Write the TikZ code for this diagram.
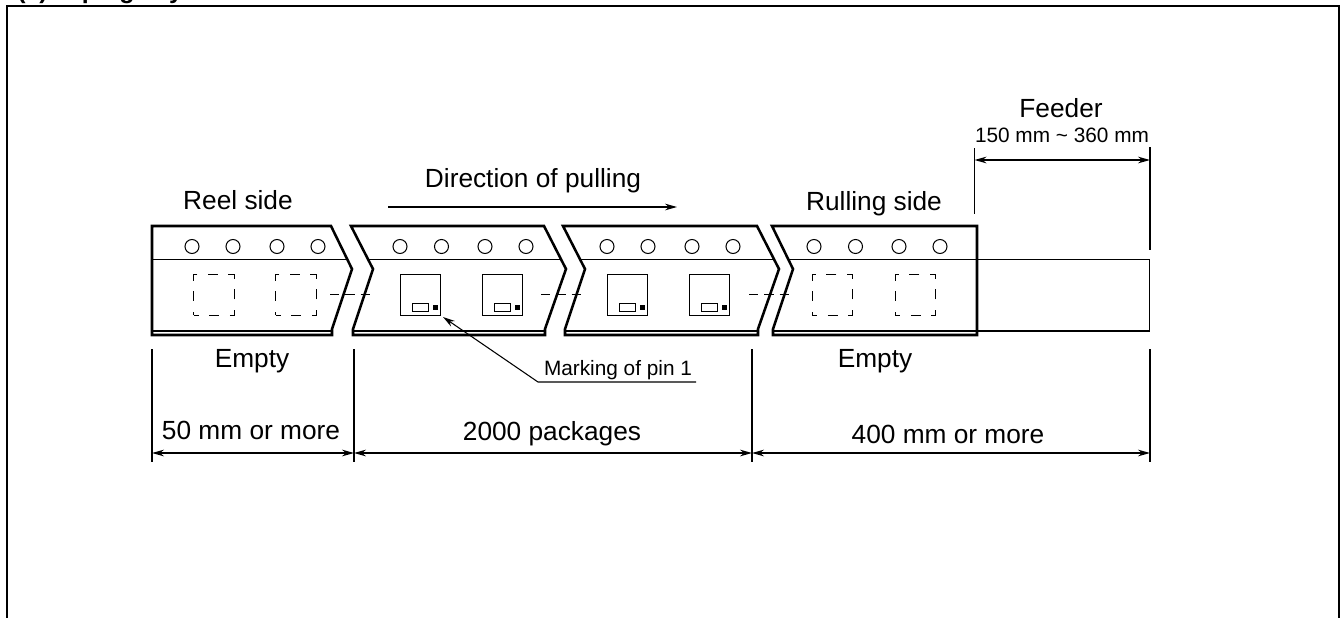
\documentclass[tikz,border=0pt]{standalone}
\usepackage{fontspec}
\setmainfont{Liberation Sans}
\usetikzlibrary{calc}
\usetikzlibrary{arrows.meta}

\tikzset{
  tape/.style={line width=1.9pt,line join=miter},
  thinline/.style={line width=0.8pt},
  hole/.style={circle,draw,line width=0.75pt,minimum size=10.5pt,inner sep=0pt},
  pkg/.style={rectangle,draw,line width=0.8pt,minimum size=30.5pt,inner sep=0pt},
  pkg empty/.style={pkg,dash pattern=on 7.5pt off 7.9pt,dash phase=3.7pt},
  mark box/.style={rectangle,draw,line width=0.75pt,minimum width=12pt,minimum height=5.5pt,inner sep=0pt},
  mark dot/.style={rectangle,fill,minimum size=3.7pt,inner sep=0pt},
  big label/.style={font=\fontsize{19.7}{22}\selectfont,inner sep=0pt},
  small label/.style={font=\fontsize{15.6}{18}\selectfont,inner sep=0pt},
  dim/.style={<->,line width=1pt},
}

\begin{document}
\begin{tikzpicture}[x=0.75pt, y=-0.75pt, >={Stealth[length=9pt,width=5pt]}]

\useasboundingbox (0,0) rectangle (1340,618);

\node [anchor=base west,inner sep=0pt,font=\bfseries\fontsize{18.7}{22}\selectfont] (title) at (17,-2) {(c) Taping key};
\draw [line width=1.6pt] (7,618) -- (7,6) -- (1339,6) -- (1339,618);

% tape pieces
\draw [tape] (152,226) -- (331,226) -- (352,269) -- (332,329) -- (332,335) -- (152,335) -- cycle;
\foreach \a/\b in {0/545,212/758}
  \draw [tape] (351+\a,226) -- (373+\a,269) -- (353+\a,329) -- (353+\a,335) -- (\b,335) -- (\b,329) -- (\b+21,269) -- (\b-1,226) -- cycle;
\draw [tape] (772,226) -- (793,269) -- (773,329) -- (773,335) -- (977,335) -- (977,226) -- cycle;

\foreach \a/\b in {152/347.5,368/561,580/773,788.5/1149.5}
  \draw [thinline] (\a,259.5) -- (\b,259.5);
\foreach \a/\b in {152/332,353/545,565/758,773/1149.5}
  \draw [thinline] (\a,331) -- (\b,331);
\draw [thinline] (1149.5,259.5) -- (1149.5,331);

\foreach \x [count=\i] in {192,233,277,318,400,441.5,485,526,607,648,692,733,814,855.5,899,940}
  \node [hole] (hole-\i) at (\x,246.5) {};

\foreach \x [count=\i] in {214,296,832.5,915.5}
  \node [pkg empty] (empty-\i) at (\x,295) {};

\foreach \x [count=\i] in {420.5,502.5,627.5,709.5} {
  \node [pkg] (pkg-\i) at (\x,295) {};
  \node [mark box] (box-\i) at (\x,307.4) {};
  \node [mark dot] (dot-\i) at (\x+15,307.2) {};
}

\foreach \a/\b in {330/373,541/584,749/792}
  \draw [thinline,dash pattern=on 7pt off 4.5pt] (\a,294.5) -- (\b,294.5);

% texts
\node [big label] (reel) at (238,200.5) {Reel side};
\node [big label] (direction) at (533,181) {Direction of pulling};
\node [big label] (rulling) at (874,204) {Rulling side};
\node [big label] (feeder) at (1061,108) {Feeder};
\node [small label] (range) at (1062,135) {150 mm \textasciitilde{} 360 mm};
\node [big label] (empty-a) at (252,361) {Empty};
\node [big label] (empty-b) at (875,361) {Empty};
\node [big label] (fifty) at (251,430) {50 mm or more};
\node [big label] (packages) at (552,434) {2000 packages};
\node [big label] (fourhundred) at (948,434) {400 mm or more};
\node [small label] (pin) at (618,370) {Marking of pin 1};

% pulling arrow
\coordinate (pull-a) at (388,207);
\coordinate (pull-b) at (677,207);
\draw [->,line width=0.8pt] (pull-a) -- (pull-b);

% leader
\coordinate (lead-a) at (696,382);
\coordinate (lead-b) at (538,382);
\coordinate (lead-c) at (443,317);
\draw [->,thinline] (lead-a) -- (lead-b) -- (lead-c);

% dimension lines
\foreach \x [count=\i] in {152,354,752,1150} {
  \coordinate (ext-\i-a) at (\x,349);
  \coordinate (ext-\i-b) at (\x,462);
  \coordinate (dim-\i) at (\x,453);
  \draw [thinline] (ext-\i-a) -- (ext-\i-b);
}
\foreach \i/\j in {1/2,2/3,3/4}
  \draw [dim] (dim-\i) -- (dim-\j);

\coordinate (feed-a) at (974.5,160);
\coordinate (feed-b) at (1150,160);
\draw [thinline] (974.5,148) -- (974.5,214);
\draw [thinline] (1150,147) -- (1150,250);
\draw [dim] (feed-a) -- (feed-b);

\end{tikzpicture}
\end{document}
